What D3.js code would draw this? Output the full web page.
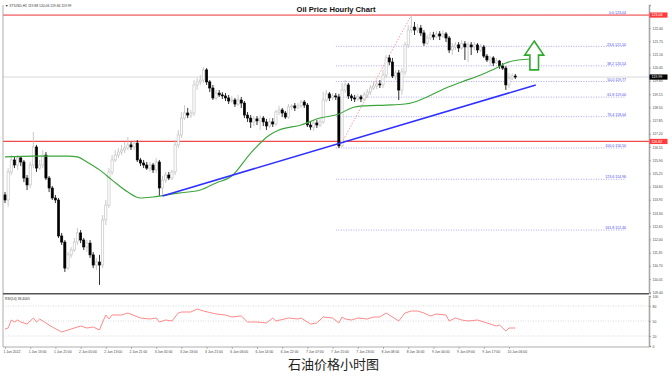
<!DOCTYPE html>
<html>
<head>
<meta charset="utf-8">
<script src="https://cdn.jsdelivr.net/npm/d3@7"></script>
<style>
  body { margin: 0; background: #fff; }
  svg { display: block; font-family: "Liberation Sans", Arial, sans-serif; }
</style>
</head>
<body>
<svg id="chart"></svg>
<script>
// hourly candles, XTIUSD H1, 1 Jun - 10 Jun 2022
const opens = [114.19,113.94,115.32,115.91,115.66,116.01,115.81,115.02,114.68,115.66,
116.55,115.51,115.66,116.15,115.02,114.53,114.04,113.94,112.17,111.87,
110.59,111.24,111.48,111.87,112.32,111.97,111.63,111.82,111.24,110.74,
110.89,110.74,112.96,113.69,115.32,115.91,116.15,116.30,116.40,116.50,
116.65,116.55,116.74,115.91,115.76,115.66,115.51,115.66,115.42,115.81,
114.53,114.92,115.17,115.02,115.32,116.65,117.14,117.97,118.22,118.12,
118.22,119.60,119.75,119.84,120.34,119.75,119.45,118.96,119.20,119.11,
119.06,118.96,118.81,118.86,118.66,118.86,118.71,118.12,117.97,117.78,
117.93,117.83,117.97,117.78,117.58,117.78,117.68,118.27,118.37,118.22,
118.02,118.52,118.57,118.47,118.57,118.76,118.61,117.63,117.53,117.73,
117.63,117.78,118.86,119.16,118.96,119.06,119.01,116.60,119.35,119.60,
119.06,118.96,118.91,119.01,118.91,119.11,119.25,119.45,119.55,119.65,
119.60,120.09,120.93,120.73,120.04,120.19,119.35,120.24,121.57,122.30,
122.45,122.30,122.40,122.16,121.66,121.91,122.06,121.96,122.11,122.01,
122.11,121.91,121.32,121.47,121.57,121.42,121.62,121.47,121.57,121.47,
121.57,121.32,121.47,121.02,120.83,120.93,120.68,120.78,120.53,120.43,
119.60,119.94,120.04];
const highs = [114.33,115.51,116.15,116.06,116.15,116.10,115.91,115.17,115.81,117.29,
116.65,115.91,116.40,116.30,115.12,114.63,114.19,114.04,112.32,111.97,
111.38,111.63,112.07,112.56,112.46,112.07,111.97,111.97,111.38,111.09,
111.24,113.20,113.94,115.51,116.15,116.40,116.50,116.65,116.79,117.04,
116.79,116.89,116.89,116.01,115.91,115.81,115.81,115.76,116.01,115.91,
115.12,115.32,115.32,115.42,116.89,117.38,118.27,118.61,118.47,118.37,
119.84,119.94,120.09,120.48,120.43,119.84,119.60,119.35,119.35,119.25,
119.20,119.11,119.06,118.96,119.11,119.01,118.81,118.27,118.12,118.07,
118.07,118.12,118.07,117.93,117.97,117.97,118.37,118.57,118.47,118.32,
118.66,118.66,118.71,118.71,118.86,118.86,118.71,117.78,117.88,117.88,
117.93,119.25,119.35,119.25,119.20,119.20,119.16,119.70,119.84,119.70,
119.16,119.11,119.16,119.11,119.25,119.40,119.60,119.75,119.84,119.84,
120.34,121.07,121.07,120.93,120.34,120.34,120.43,121.71,122.55,123.04,
122.70,122.60,122.55,122.30,122.06,122.21,122.21,122.25,122.25,122.30,
122.21,122.01,121.66,121.71,121.71,121.81,121.76,121.71,121.71,121.71,
121.66,121.62,121.57,121.12,121.02,121.02,120.93,120.83,120.68,120.53,
120.19,120.19,120.14];
const lows = [113.79,113.60,115.17,115.51,115.42,115.61,114.82,114.43,114.53,115.51,
115.32,115.42,115.51,114.92,114.33,113.94,113.79,112.07,111.73,110.40,
110.50,111.09,111.38,111.73,111.82,111.48,111.38,111.09,110.59,110.50,
109.76,110.59,112.71,113.55,115.17,115.81,116.01,116.15,116.25,116.40,
116.40,116.40,115.81,115.61,115.51,115.42,115.32,115.27,115.27,114.14,
114.14,114.78,114.92,114.92,115.17,116.50,116.99,117.88,117.97,117.97,
118.07,119.35,119.60,119.70,119.60,119.25,118.86,118.86,119.01,118.91,
118.81,118.66,118.71,118.52,118.57,118.47,117.97,117.78,117.48,117.58,
117.63,117.38,117.58,117.38,117.48,117.53,117.58,118.12,118.02,117.93,
117.93,118.37,118.32,118.42,118.47,118.47,117.53,117.38,117.33,117.48,
117.53,117.68,118.76,118.81,118.86,118.86,116.50,116.55,119.20,118.91,
118.81,118.76,118.81,118.76,118.81,118.96,119.11,119.35,119.40,119.45,
119.45,119.94,120.58,119.94,119.84,118.86,119.11,120.09,121.42,122.16,
122.06,122.16,122.01,121.52,121.57,121.81,121.81,121.91,121.81,121.91,
121.71,121.17,121.07,121.32,121.22,121.32,120.83,120.73,121.07,121.32,
121.17,121.22,120.93,120.73,120.53,120.53,120.63,120.39,120.34,119.35,
119.45,119.84,119.89];
const closes = [113.94,115.32,115.91,115.66,116.01,115.81,115.02,114.68,115.66,116.55,
115.51,115.66,116.15,115.02,114.53,114.04,113.94,112.17,111.87,110.59,
111.24,111.48,111.87,112.32,111.97,111.63,111.82,111.24,110.74,110.89,
110.74,112.96,113.69,115.32,115.91,116.15,116.30,116.40,116.50,116.65,
116.55,116.74,115.91,115.76,115.66,115.51,115.66,115.42,115.81,114.53,
114.92,115.17,115.02,115.32,116.65,117.14,117.97,118.22,118.12,118.22,
119.60,119.75,119.84,120.34,119.75,119.45,118.96,119.20,119.11,119.06,
118.96,118.81,118.86,118.66,118.86,118.71,118.12,117.97,117.78,117.93,
117.83,117.97,117.78,117.58,117.78,117.68,118.27,118.37,118.22,118.02,
118.52,118.57,118.47,118.57,118.76,118.61,117.63,117.53,117.73,117.63,
117.78,118.86,119.16,118.96,119.06,119.01,116.60,119.35,119.60,119.06,
118.96,118.91,119.01,118.91,119.11,119.25,119.45,119.55,119.65,119.60,
120.09,120.93,120.73,120.04,120.19,119.35,120.24,121.57,122.30,122.45,
122.30,122.40,122.16,121.66,121.91,122.06,121.96,122.11,122.01,122.11,
121.91,121.32,121.47,121.57,121.42,121.62,121.47,121.57,121.47,121.57,
121.32,121.47,121.02,120.83,120.93,120.68,120.78,120.53,120.43,119.60,
119.94,120.04,119.99];

// moving average (shifted forward), read at bar positions
const maIdx = [0,9,20,23,26,30,34,39,43,47,55,62,67,72,78,84,87,94,100,106,110,114,121,127,131,134,140,145,151,156,159,163,167];
const maVal = [116.06,116.10,116.10,116.06,115.81,115.42,114.92,114.33,114.04,114.09,114.28,114.43,114.78,115.12,116.25,117.14,117.38,117.63,117.97,118.17,118.47,118.57,118.61,118.66,118.81,119.01,119.45,119.75,120.09,120.43,120.68,120.83,120.88];

// RSI(14)
const rsiIdx = [0,1,2,3,4,5,7,9,10,11,13,15,18,21,24,26,28,30,31,32,33,34,37,39,43,46,48,49,51,53,55,56,59,61,63,67,70,72,75,77,80,83,85,86,90,93,94,97,99,101,104,106,107,108,110,112,115,117,119,121,122,125,127,129,131,133,135,137,140,141,143,145,147,150,152,153,156,157,159,160,162];
const rsiVal = [34,36,52,48,52,48,44,56,48,54,46,38,28,34,40,36,38,32,48,62,54,62,62,66,56,54,56,48,52,50,66,68,68,74,70,64,62,58,60,48,48,46,56,50,56,54,56,44,46,58,56,46,58,54,52,56,54,58,58,66,62,50,66,70,70,66,60,64,62,50,56,52,50,52,48,46,40,42,30,36,36];
const rsiLevels = [20, 50, 80];
const rsiTicks = [0, 20, 50, 80, 100];

// fibonacci retracement from swing low (bar 106) to swing high (bar 129)
const fibRatios = ['0.0', '23.6', '38.2', '50.0', '61.8', '76.4', '100.0', '123.6', '161.8'];
const fibPrices = [123.04, 121.50, 120.54, 119.77, 119.00, 118.04, 116.50, 114.96, 112.46];
const fibAnchor = [[106, 116.50], [129, 123.04]];

const resistanceLevels = [123.04, 116.82];
const trendline = [[50, 114.14], [168.5, 119.60]];
const lastPrice = 119.99;
const arrowBar = 168;
const arrowPrices = { tip: 121.76, neck: 121.07, base: 120.34 };

const priceTicks = [109.40,110.05,110.70,111.35,112.00,112.65,113.30,113.95,114.60,115.25,115.90,116.55,117.20,117.85,118.50,119.15,119.80,120.45,121.10,121.75,122.40];
const timeLabels = ['1 Jun 2022','1 Jun 13:00','1 Jun 21:00','2 Jun 05:00','2 Jun 13:00','2 Jun 21:00','3 Jun 05:00','3 Jun 13:00','3 Jun 21:00','6 Jun 06:00','6 Jun 14:00','6 Jun 22:00','7 Jun 07:00','7 Jun 15:00','7 Jun 23:00','8 Jun 08:00','8 Jun 16:00','9 Jun 00:00','9 Jun 09:00','9 Jun 17:00','10 Jun 06:00'];
const timeLabelBars = d3.range(0, 161, 8);

const W = 672, H = 377;
const box = { left: 3, right: 649, top: 5, mainBottom: 293, rsiTop: 295, rsiBottom: 347 };

const svg = d3.select('#chart').attr('width', W).attr('height', H);

const x = d3.scaleLinear().domain([0, 162]).range([5, 515.3]);
const y = d3.scaleLinear().domain([109.364, 123.534]).range([box.mainBottom, box.top]);
const yRsi = d3.scaleLinear().domain([0, 100]).range([346, 296]);

svg.append('defs').append('clipPath').attr('id', 'main-clip')
  .append('rect')
  .attr('x', box.left).attr('y', box.top)
  .attr('width', box.right - box.left).attr('height', box.mainBottom - box.top);

const main = svg.append('g').attr('clip-path', 'url(#main-clip)');

// bid line
main.append('line')
  .attr('x1', box.left).attr('x2', box.right)
  .attr('y1', y(lastPrice)).attr('y2', y(lastPrice))
  .attr('stroke', '#cfcfcf').attr('stroke-width', 0.8);

// fib levels
const fibRight = 626;
main.append('g').selectAll('line')
  .data(fibPrices)
  .join('line')
  .attr('x1', x(fibAnchor[0][0]) - 3).attr('x2', fibRight)
  .attr('y1', d => y(d)).attr('y2', d => y(d))
  .attr('stroke', '#8f8fff').attr('stroke-width', 0.8)
  .attr('stroke-dasharray', '1,1.5');

main.append('g').selectAll('text')
  .data(fibPrices)
  .join('text')
  .attr('x', fibRight)
  .attr('y', d => y(d) - 0.8)
  .attr('text-anchor', 'end')
  .attr('font-size', '3.6px')
  .attr('fill', '#4a4aee')
  .text((d, i) => `${fibRatios[i]} ${d.toFixed(2)}`);

// red horizontal levels
main.append('g').selectAll('line')
  .data(resistanceLevels)
  .join('line')
  .attr('x1', box.left).attr('x2', box.right)
  .attr('y1', d => y(d)).attr('y2', d => y(d))
  .attr('stroke', (d, i) => i === 0 ? '#f58a8a' : '#ee4a4a')
  .attr('stroke-width', (d, i) => i === 0 ? 1.8 : 1.3);

// fib anchor diagonal
main.append('line')
  .attr('x1', x(fibAnchor[0][0])).attr('y1', y(fibAnchor[0][1]))
  .attr('x2', x(fibAnchor[1][0])).attr('y2', y(fibAnchor[1][1]))
  .attr('stroke', '#ff8080').attr('stroke-width', 0.8)
  .attr('stroke-dasharray', '1.5,1.5');

// candles
const candles = d3.range(closes.length).map(i => ({
  i, o: opens[i], h: highs[i], l: lows[i], c: closes[i], up: closes[i] >= opens[i]
}));

const cg = main.append('g');
cg.selectAll('.wick')
  .data(candles)
  .join('line')
  .attr('class', 'wick')
  .attr('x1', d => x(d.i)).attr('x2', d => x(d.i))
  .attr('y1', d => y(d.h)).attr('y2', d => y(d.l))
  .attr('stroke', d => d.up ? '#bdbdbd' : '#000')
  .attr('stroke-width', 0.8);

const bodyW = 2.2;
cg.selectAll('.body')
  .data(candles)
  .join('rect')
  .attr('class', 'body')
  .attr('x', d => x(d.i) - bodyW / 2)
  .attr('y', d => y(Math.max(d.o, d.c)))
  .attr('width', bodyW)
  .attr('height', d => Math.max(0.8, Math.abs(y(d.o) - y(d.c))))
  .attr('fill', d => d.up ? '#fff' : '#000')
  .attr('stroke', d => d.up ? '#bdbdbd' : '#000')
  .attr('stroke-width', 0.6);

// moving average
main.append('path')
  .datum(maIdx.map((d, i) => [d, maVal[i]]))
  .attr('fill', 'none')
  .attr('stroke', '#3aa53a')
  .attr('stroke-width', 1.1)
  .attr('d', d3.line().x(d => x(d[0])).y(d => y(d[1])).curve(d3.curveMonotoneX));

// trend line
main.append('line')
  .attr('x1', x(trendline[0][0])).attr('y1', y(trendline[0][1]))
  .attr('x2', x(trendline[1][0])).attr('y2', y(trendline[1][1]))
  .attr('stroke', '#2f2fff').attr('stroke-width', 1.6);

// up arrow
const ax = x(arrowBar), headHalf = 9.5, shaftHalf = 4.3;
const arrowPts = [
  [ax, y(arrowPrices.tip)],
  [ax + headHalf, y(arrowPrices.neck)],
  [ax + shaftHalf, y(arrowPrices.neck)],
  [ax + shaftHalf, y(arrowPrices.base)],
  [ax - shaftHalf, y(arrowPrices.base)],
  [ax - shaftHalf, y(arrowPrices.neck)],
  [ax - headHalf, y(arrowPrices.neck)]
];
main.append('polygon')
  .attr('points', arrowPts.map(p => p.join(',')).join(' '))
  .attr('fill', '#fff')
  .attr('stroke', '#2eaa2e')
  .attr('stroke-width', 1.6)
  .attr('stroke-linejoin', 'miter');

// frame
svg.append('line')
  .attr('x1', box.left).attr('x2', box.left)
  .attr('y1', box.top).attr('y2', box.rsiBottom)
  .attr('stroke', '#9a9a9a').attr('stroke-width', 0.8);
svg.append('line')
  .attr('x1', box.left).attr('x2', box.right)
  .attr('y1', box.mainBottom + 0.8).attr('y2', box.mainBottom + 0.8)
  .attr('stroke', '#555').attr('stroke-width', 1.4);
svg.append('line')
  .attr('x1', box.left).attr('x2', box.right)
  .attr('y1', box.rsiBottom).attr('y2', box.rsiBottom)
  .attr('stroke', '#9a9a9a').attr('stroke-width', 0.8);

// price axis
const yAxis = d3.axisRight(y).tickValues(priceTicks).tickFormat(d3.format('.2f')).tickSize(2).tickPadding(1.5);
const yAxisG = svg.append('g')
  .attr('transform', `translate(${box.right},0)`)
  .call(yAxis);
yAxisG.select('.domain').attr('stroke', '#a8a8a8').attr('stroke-width', 1.6);
yAxisG.selectAll('.tick line').attr('stroke', '#888').attr('stroke-width', 0.6);
yAxisG.selectAll('text').attr('font-size', '3.4px').attr('fill', '#444').attr('font-family', 'Liberation Sans, Arial, sans-serif');

// price tags
const tags = [
  { p: resistanceLevels[0], fill: '#ff3b3b' },
  { p: resistanceLevels[1], fill: '#ff3b3b' },
  { p: lastPrice, fill: '#000' }
];
const tagG = svg.append('g').selectAll('g')
  .data(tags)
  .join('g')
  .attr('transform', d => `translate(${box.right + 0.5},${y(d.p)})`);
tagG.append('rect')
  .attr('x', 0).attr('y', -2.6).attr('width', 18).attr('height', 5.2)
  .attr('fill', d => d.fill);
tagG.append('text')
  .attr('x', 2).attr('y', 1.3)
  .attr('font-size', '3.6px').attr('fill', '#fff')
  .text(d => d.p.toFixed(2));

// RSI panel
const rsiG = svg.append('g');
rsiG.selectAll('line')
  .data(rsiLevels)
  .join('line')
  .attr('x1', box.left).attr('x2', box.right)
  .attr('y1', d => yRsi(d)).attr('y2', d => yRsi(d))
  .attr('stroke', '#c8c8c8').attr('stroke-width', 0.7)
  .attr('stroke-dasharray', '1,1.5');
rsiG.append('path')
  .datum(rsiIdx.map((d, i) => [d, rsiVal[i]]))
  .attr('fill', 'none')
  .attr('stroke', '#ff8a8a')
  .attr('stroke-width', 1)
  .attr('d', d3.line().x(d => x(d[0])).y(d => yRsi(d[1])));

const rsiAxisG = svg.append('g')
  .attr('transform', `translate(${box.right},0)`)
  .call(d3.axisRight(yRsi).tickValues(rsiTicks).tickSize(2).tickPadding(1.5));
rsiAxisG.select('.domain').attr('stroke', '#a8a8a8').attr('stroke-width', 1.6);
rsiAxisG.selectAll('.tick line').attr('stroke', '#888').attr('stroke-width', 0.6);
rsiAxisG.selectAll('text').attr('font-size', '3.4px').attr('fill', '#444').attr('font-family', 'Liberation Sans, Arial, sans-serif');

svg.append('text')
  .attr('x', 5).attr('y', 299.5)
  .attr('font-size', '3.4px').attr('fill', '#333')
  .text('RSI(14) 38.4005');

// time axis
const xAxisG = svg.append('g')
  .attr('transform', `translate(0,${box.rsiBottom})`)
  .call(d3.axisBottom(x).tickValues(timeLabelBars).tickFormat((d, i) => timeLabels[i]).tickSize(2).tickPadding(1.5));
xAxisG.select('.domain').remove();
xAxisG.selectAll('.tick line').attr('stroke', '#888').attr('stroke-width', 0.6);
xAxisG.selectAll('text')
  .attr('text-anchor', 'start').attr('dx', -2)
  .attr('font-size', '3.4px').attr('fill', '#444')
  .attr('font-family', 'Liberation Sans, Arial, sans-serif');

// header texts
svg.append('text')
  .attr('x', 5).attr('y', 6.5)
  .attr('font-size', '3.4px').attr('fill', '#333')
  .text('\u25BC XTIUSD,H1  119.88 120.06 119.84 119.99');

svg.append('text')
  .attr('x', 336).attr('y', 11.5)
  .attr('text-anchor', 'middle')
  .attr('font-size', '7.6px').attr('font-weight', 'bold').attr('fill', '#111')
  .text('Oil Price Hourly Chart');

svg.append('text')
  .attr('x', 333.5).attr('y', 369)
  .attr('text-anchor', 'middle')
  .attr('font-family', '"Noto Sans CJK SC", sans-serif')
  .attr('font-size', '13px').attr('fill', '#222')
  .text('石油价格小时图');
</script>
</body>
</html>
